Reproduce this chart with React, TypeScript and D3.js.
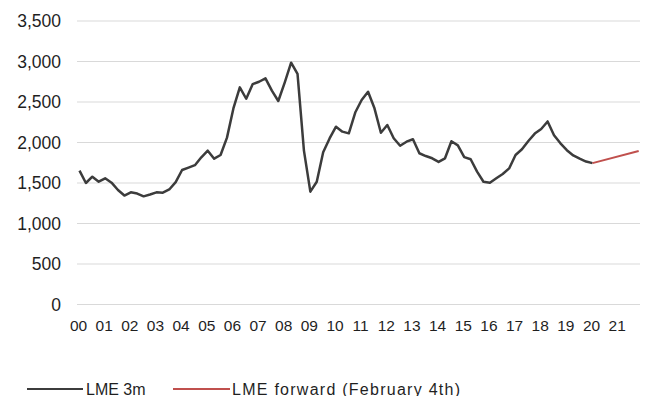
import React from 'react';
import * as d3 from 'd3';

// quarterly LME 3m price, 2000 Q1 .. 2020 Q1
const lme3m: number[] = [
  1652, 1500, 1578, 1516, 1558, 1504, 1414, 1345, 1385, 1370,
  1335, 1358, 1385, 1380, 1420, 1510, 1660, 1690, 1720, 1817,
  1899, 1800, 1846, 2060, 2420, 2681, 2540, 2720, 2750, 2792,
  2640, 2512, 2740, 2985, 2846, 1900, 1393, 1516, 1880, 2050,
  2195, 2134, 2113, 2370, 2525, 2627, 2422, 2121, 2216, 2052,
  1960, 2010, 2040, 1867, 1833, 1805, 1760, 1805, 2015, 1965,
  1820, 1793, 1640, 1515, 1504, 1558, 1611, 1680, 1846, 1916,
  2019, 2110, 2167, 2260, 2090, 1990, 1905, 1840, 1800, 1765,
  1745,
];

// forward curve (years since 2000)
const forwardYears: number[] = [20, 21.8];
const forwardValues: number[] = [1745, 1895];

const yearLabels: string[] = [
  '00', '01', '02', '03', '04', '05', '06', '07', '08', '09', '10',
  '11', '12', '13', '14', '15', '16', '17', '18', '19', '20', '21',
];
const yTicks: number[] = [0, 500, 1000, 1500, 2000, 2500, 3000, 3500];

const seriesNames: string[] = ['LME 3m', 'LME forward (February 4th)'];

const width = 646;
const height = 396;
const font = "'Liberation Sans', Arial, sans-serif";
const textColor = '#1f1f1f';

const App: React.FC = () => {
  const x = d3.scaleLinear().domain([0, 22]).range([79.5, 79.5 + 22 * 25.65]);
  const y = d3.scaleLinear().domain([0, 3500]).range([304.5, 21]);
  const fmt = d3.format(',');

  const line = d3
    .line<[number, number]>()
    .x((d) => x(d[0]))
    .y((d) => y(d[1]));

  const histPts: [number, number][] = lme3m.map((v, i) => [i / 4, v]);
  const fwdPts: [number, number][] = forwardYears.map((t, i) => [t, forwardValues[i]]);

  return (
    <svg
      width={width}
      height={height}
      style={{ position: 'absolute', left: 0, top: 0, background: '#fff' }}
      fontFamily={font}
    >
      {/* gridlines */}
      {yTicks.map((t) => (
        <line key={t} x1={77} x2={640} y1={y(t)} y2={y(t)} stroke="#d9d9d9" strokeWidth={1} />
      ))}
      {/* y labels */}
      {yTicks.map((t) => (
        <text
          key={'l' + t}
          x={61}
          y={y(t) + 1.5}
          textAnchor="end"
          dominantBaseline="middle"
          fontSize={17.5}
          fill={textColor}
        >
          {fmt(t)}
        </text>
      ))}
      {/* x labels */}
      {yearLabels.map((lab, i) => (
        <text
          key={lab}
          x={x(i) - 1}
          y={331}
          textAnchor="middle"
          fontSize={15.5}
          fill={textColor}
        >
          {lab}
        </text>
      ))}
      <path d={line(histPts) ?? ''} fill="none" stroke="#3c3c3c" strokeWidth={2.5} strokeLinejoin="round" />
      <path d={line(fwdPts) ?? ''} fill="none" stroke="#c0504d" strokeWidth={2} />

      {/* legend */}
      <line x1={27} x2={83} y1={389} y2={389} stroke="#3c3c3c" strokeWidth={2} />
      <text x={86} y={394.5} fontSize={16} fill={textColor}>{seriesNames[0]}</text>
      <line x1={173} x2={230} y1={389} y2={389} stroke="#c0504d" strokeWidth={2} />
      <text x={232} y={394.5} fontSize={16} fill={textColor} textLength={228} lengthAdjust="spacing">
        {seriesNames[1]}
      </text>
    </svg>
  );
};

export default App;
